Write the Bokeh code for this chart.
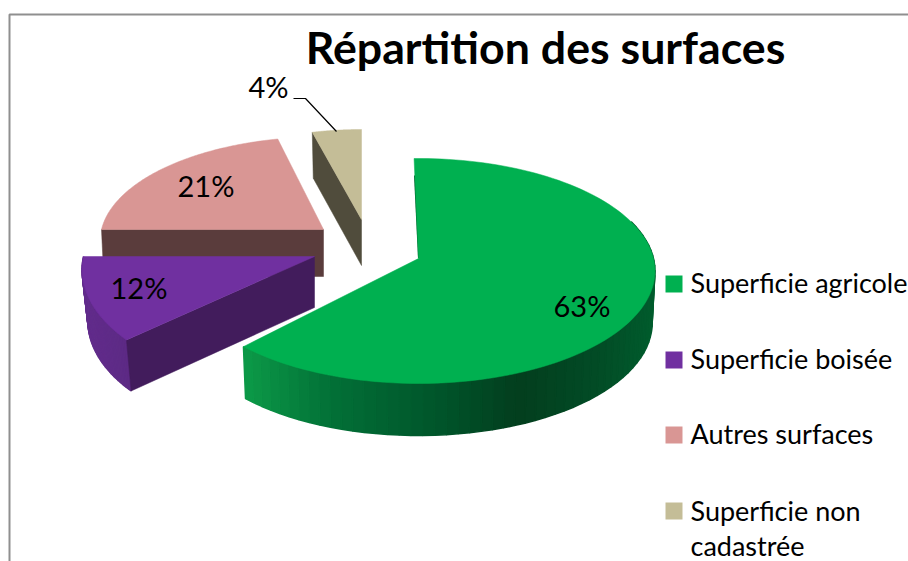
import numpy as np
from bokeh.plotting import figure
from bokeh.models import Range1d
from bokeh.embed import file_html
from bokeh.resources import INLINE
from bokeh.core.properties import value

# ---- data ----
title = "Répartition des surfaces"
categories = ["Superficie agricole", "Superficie boisée", "Autres surfaces", "Superficie non cadastrée"]
values = [63, 12, 21, 4]
pct_labels = ["63%", "12%", "21%", "4%"]

# ---- style / layout ----
top_colors = ["#00b050", "#7030a0", "#d99694", "#c4bd97"]
cut_colors = ["#02582a", "#421c5c", "#5a3c3c", "#504c3c"]
apex = [(418, 258), (314, 256), (323, 229), (361, 219)]
radius = [235, 231, 222, 212]
depth_y = [111.1, 118, 103, 100]
depth = [52, 51, 47, 46]
bottom_scale = [0.988, 0.975, 0.99, 0.98]
start_tweak = [-1.2, 2.2, 0, -0.5]
end_tweak = [-3.6, 0, 1.2, 0]
K = 1 / 9
FONT = "Lato"
W, H = 908, 561
BASE = 0.41  # baseline correction of the text glyph, as a share of the font size

p = figure(width=W, height=H, output_backend="svg", toolbar_location=None,
           x_range=Range1d(0, W), y_range=Range1d(H, 0),
           min_border=0, outline_line_color=None, background_fill_color="white",
           border_fill_color="white")
p.axis.visible = False
p.grid.visible = False


def project(i, deg):
    t = np.radians(np.asarray(deg, dtype=float))
    d = 1 + K * np.cos(t)
    return apex[i][0] + radius[i] * np.sin(t) / d, apex[i][1] - depth_y[i] * np.cos(t) / d


def lower(i, x, y):
    return apex[i][0] + (x - apex[i][0]) * bottom_scale[i], y + depth[i]


def lerp_color(stops, x):
    xs = [s[0] for s in stops]
    ch = [np.interp(x, xs, [s[1][j] for s in stops]) for j in range(3)]
    return "#%02x%02x%02x" % tuple(int(round(c)) for c in ch)


green_stops = [(242, (12, 154, 72)), (330, (2, 112, 55)), (440, (0, 84, 42)),
               (517, (3, 62, 30)), (600, (2, 76, 38)), (654, (1, 92, 45))]
purple_stops = [(80, (98, 44, 140)), (130, (92, 42, 132))]

cum = np.cumsum([0] + values) / sum(values) * 360
start = cum[:-1] + np.array(start_tweak)
end = cum[1:] + np.array(end_tweak)


def wall(i, a0, a1, stops):
    deg = np.linspace(a0, a1, 60)
    x, y = project(i, deg)
    bx, by = lower(i, x, y)
    for j in range(len(deg) - 1):
        c = lerp_color(stops, (x[j] + x[j + 1]) / 2)
        p.patch([x[j], x[j + 1], bx[j + 1], bx[j]],
                [y[j], y[j + 1], by[j + 1], by[j]],
                fill_color=c, line_color=c, line_width=1.5)


def cut(i, deg):
    x, y = project(i, deg)
    bx, by = lower(i, x, y)
    ax, ay = apex[i]
    p.patch([ax, x, bx, ax], [ay, y, by, ay + depth[i]],
            fill_color=cut_colors[i], line_color=cut_colors[i], line_width=0.5)


def top(i):
    deg = np.linspace(start[i], end[i], 120)
    x, y = project(i, deg)
    p.patch(np.r_[apex[i][0], x], np.r_[apex[i][1], y],
            fill_color=top_colors[i], line_color=top_colors[i], line_width=0.5)


def put_text(xs, ys, texts, size, **kw):
    p.text(xs, [y - BASE * size for y in ys], text=texts, text_font_size=f"{size}px",
           text_color="#000000", text_font=value(FONT), text_baseline="alphabetic", **kw)


# frame of the chart
p.line([9, 9, W], [H, 14, 14], line_color="#8f8f8f", line_width=2)

# Autres surfaces
cut(2, start[2])
top(2)
# Superficie non cadastree
cut(3, start[3])
top(3)
# Superficie boisee
wall(1, start[1], end[1], purple_stops)
cut(1, start[1])
top(1)
# Superficie agricole
wall(0, 70, end[0], green_stops)
p.patch([413.5, 420, 420, 417.5], [175, 175, 257, 258], fill_color=cut_colors[0], line_color=None)
top(0)

# legend
key_y = [275, 351, 426, 502]
for cy, c in zip(key_y, top_colors):
    p.quad(left=665, right=682, top=cy, bottom=cy + 17, fill_color=c, line_color=None)

legend_lines = [categories[0], categories[1], categories[2], "Superficie non", "cadastrée"]
put_text([690] * 5, [293, 369, 444, 521, 556], legend_lines, 27)

# percent labels
put_text([553, 110, 177, 248], [317, 299, 197, 98], pct_labels, 29)

# leader line of the 4% label
p.line([293, 305, 336], [98, 98, 131], line_color="#000000", line_width=1.2)

# title
put_text([545], [65], [title], 44.7, text_align="center", text_font_style="bold")

open("out.html", "w").write(file_html(p, INLINE))
